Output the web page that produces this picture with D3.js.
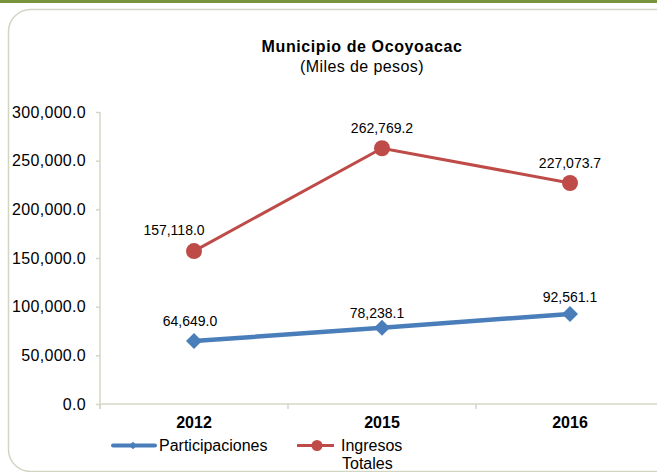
<!DOCTYPE html>
<html>
<head>
<meta charset="utf-8">
<script src="https://cdn.jsdelivr.net/npm/d3@7"></script>
<style>
  html, body { margin: 0; padding: 0; background: #fff; }
  svg { display: block; font-family: "Liberation Sans", Arial, sans-serif; }
</style>
</head>
<body>
<svg id="chart" width="657" height="472"></svg>
<script>
// ---- Data ----
const categories = ["2012", "2015", "2016"];
const participaciones = [64649.0, 78238.1, 92561.1];
const ingresosTotales = [157118.0, 262769.2, 227073.7];
const yTicks = [0, 50000, 100000, 150000, 200000, 250000, 300000];
const seriesNames = ["Participaciones", "Ingresos Totales"];
const titleText = "Municipio de Ocoyoacac";
const subtitleText = "(Miles de pesos)";

// ---- Styles / layout (not data) ----
const colors = { part: "#4A7EBB", ing: "#BE4B48", axis: "#D6D7C6", border: "#D3D5C3", bar: "#77933C" };
const labelOffsetsIng = [[-20, -21], [0, -20], [0, -20]];
const labelOffsetsPart = [[-4, -20], [-5, -15], [0, -17]];

const svg = d3.select("#chart");
const W = 657, H = 472;

// top green bar
svg.append("rect").attr("x", 0).attr("y", 0).attr("width", W).attr("height", 3).attr("fill", colors.bar);
// rounded border
svg.append("rect").attr("x", 8.5).attr("y", 9.5).attr("width", 680).attr("height", 462)
  .attr("rx", 22).attr("ry", 22).attr("fill", "none").attr("stroke", colors.border).attr("stroke-width", 1.5);

const x = d3.scaleBand().domain(categories).range([100, 664]).paddingInner(0).paddingOuter(0);
const y = d3.scaleLinear().domain([0, 300000]).range([404, 112]);

// Title
svg.append("text").attr("x", 362).attr("y", 52).attr("text-anchor", "middle")
  .attr("font-size", 16).attr("font-weight", "bold").attr("letter-spacing", "0.6px").attr("fill", "#000").text(titleText);
svg.append("text").attr("x", 362).attr("y", 72).attr("text-anchor", "middle")
  .attr("font-size", 16).attr("letter-spacing", "0.4px").attr("fill", "#000").text(subtitleText);

// Y axis
const yAxis = d3.axisLeft(y).tickValues(yTicks).tickSize(4).tickPadding(10)
  .tickFormat(d => d3.format(",.1f")(d));
const gy = svg.append("g").attr("transform", "translate(100,0)").call(yAxis);
gy.select(".domain").attr("stroke", colors.axis).attr("stroke-width", 1.5).attr("d", "M0,112V409");
gy.selectAll(".tick line").attr("stroke", colors.axis).attr("stroke-width", 1.5);
gy.selectAll(".tick text").attr("font-size", 16).attr("fill", "#000").attr("letter-spacing", "0.3px")
  .attr("font-family", "Liberation Sans, Arial, sans-serif");

// X axis
const xAxis = d3.axisBottom(x).tickSize(0).tickPadding(13);
const gx = svg.append("g").attr("transform", "translate(0,404)").call(xAxis);
gx.select(".domain").attr("stroke", colors.axis).attr("stroke-width", 1.5).attr("d", "M100,0H664");
gx.selectAll(".tick text").attr("font-size", 16).attr("font-weight", "bold").attr("fill", "#000")
  .attr("font-family", "Liberation Sans, Arial, sans-serif");
// category boundary ticks
const bounds = categories.map(c => x(c)).concat([x(categories[categories.length - 1]) + x.bandwidth()]);
gx.selectAll(".bound").data(bounds).enter().append("line").attr("class", "bound")
  .attr("x1", d => d).attr("x2", d => d).attr("y1", 0).attr("y2", 5)
  .attr("stroke", colors.axis).attr("stroke-width", 1.5);

const cx = c => x(c) + x.bandwidth() / 2;
const line = d3.line().x((d, i) => cx(categories[i])).y(d => y(d));

// Ingresos Totales line
svg.append("path").datum(ingresosTotales).attr("d", line).attr("fill", "none")
  .attr("stroke", colors.ing).attr("stroke-width", 3);
svg.selectAll(".ingPt").data(ingresosTotales).enter().append("circle").attr("class", "ingPt")
  .attr("cx", (d, i) => cx(categories[i])).attr("cy", d => y(d)).attr("r", 8).attr("fill", colors.ing);

// Participaciones line
svg.append("path").datum(participaciones).attr("d", line).attr("fill", "none")
  .attr("stroke", colors.part).attr("stroke-width", 4.5);
const diamond = d3.symbol().type(d3.symbolSquare).size(128);
svg.selectAll(".partPt").data(participaciones).enter().append("path").attr("class", "partPt")
  .attr("d", diamond).attr("transform", (d, i) => `translate(${cx(categories[i])},${y(d)}) rotate(45)`)
  .attr("fill", colors.part);

// Data labels
const fmt = d3.format(",.1f");
svg.selectAll(".ingLbl").data(ingresosTotales).enter().append("text").attr("class", "ingLbl")
  .attr("x", (d, i) => cx(categories[i]) + labelOffsetsIng[i][0])
  .attr("y", (d, i) => y(d) + labelOffsetsIng[i][1] + 5)
  .attr("text-anchor", "middle").attr("font-size", 14).attr("fill", "#000").text(d => fmt(d));
svg.selectAll(".partLbl").data(participaciones).enter().append("text").attr("class", "partLbl")
  .attr("x", (d, i) => cx(categories[i]) + labelOffsetsPart[i][0])
  .attr("y", (d, i) => y(d) + labelOffsetsPart[i][1] + 5)
  .attr("text-anchor", "middle").attr("font-size", 14).attr("fill", "#000").text(d => fmt(d));

// Legend
const lg = svg.append("g");
lg.append("line").attr("x1", 113).attr("x2", 155).attr("y1", 445.5).attr("y2", 445.5)
  .attr("stroke", colors.part).attr("stroke-width", 4).attr("stroke-linecap", "round");
lg.append("path").attr("d", d3.symbol().type(d3.symbolSquare).size(30)).attr("transform", "translate(133,445.5) rotate(45)")
  .attr("fill", colors.part);
lg.append("text").attr("x", 159).attr("y", 451).attr("font-size", 16).attr("fill", "#000").text(seriesNames[0]);

lg.append("line").attr("x1", 297).attr("x2", 334).attr("y1", 445.5).attr("y2", 445.5)
  .attr("stroke", colors.ing).attr("stroke-width", 3);
lg.append("circle").attr("cx", 317).attr("cy", 445.5).attr("r", 5.5).attr("fill", colors.ing);
const words = seriesNames[1].split(" ");
lg.append("text").attr("x", 341).attr("y", 451).attr("font-size", 16).attr("fill", "#000").text(words[0]);
lg.append("text").attr("x", 342).attr("y", 469).attr("font-size", 16).attr("fill", "#000").text(words[1]);
</script>
</body>
</html>
